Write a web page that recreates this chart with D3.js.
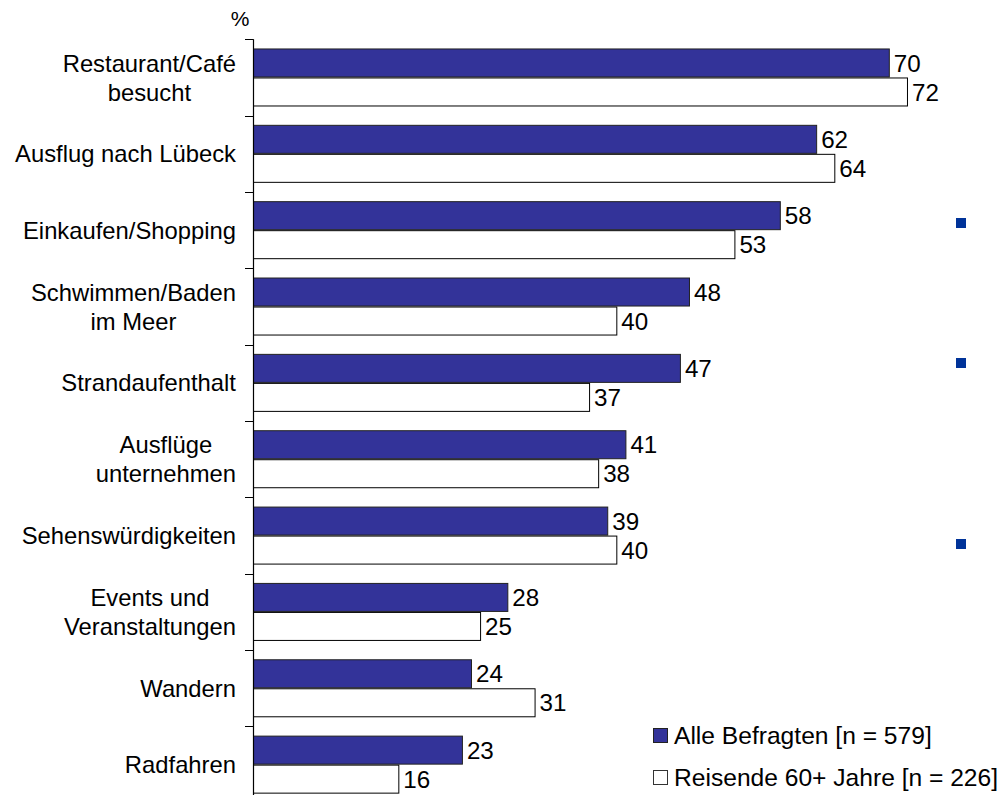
<!DOCTYPE html>
<html>
<head>
<meta charset="utf-8">
<script src="https://cdn.jsdelivr.net/npm/d3@7"></script>
<style>
  html, body { margin: 0; padding: 0; background: #fff; }
  svg { display: block; }
  text { font-family: "Liberation Sans", Arial, sans-serif; fill: #000; }
</style>
</head>
<body>
<svg id="chart" width="1001" height="799"></svg>
<script>
// ---- data ----
const categories = [
  ["Restaurant/Café", "besucht"],
  ["Ausflug nach Lübeck"],
  ["Einkaufen/Shopping"],
  ["Schwimmen/Baden", "im Meer"],
  ["Strandaufenthalt"],
  ["Ausflüge", "unternehmen"],
  ["Sehenswürdigkeiten"],
  ["Events und", "Veranstaltungen"],
  ["Wandern"],
  ["Radfahren"]
];
const seriesNames = ["Alle Befragten [n = 579]", "Reisende 60+ Jahre [n = 226]"];
const alleBefragten = [70, 62, 58, 48, 47, 41, 39, 28, 24, 23];
const reisende60 = [72, 64, 53, 40, 37, 38, 40, 25, 31, 16];
const unitLabel = "%";

// ---- layout ----
const svg = d3.select("#chart");
const fontSize = 23.8;
const colors = ["#333399", "#ffffff"];
const strokes = ["#222222", "#000000"];

const catKeys = categories.map(c => c.join(" "));
const x = d3.scaleLinear().domain([0, 80]).range([253, 253 + 80 * 9.083]);
const y = d3.scaleBand().domain(catKeys).range([39.3, 39.3 + 10 * 76.35]).padding(0);
const y1 = d3.scaleBand().domain(seriesNames).range([0, y.bandwidth()])
  .paddingInner(0).paddingOuter(0.316);

const rows = catKeys.map((k, i) => ({ key: k, lines: categories[i], vals: [alleBefragten[i], reisende60[i]] }));

// bars
const g = svg.append("g");
rows.forEach(r => {
  r.vals.forEach((v, si) => {
    const yy = y(r.key) + y1(seriesNames[si]);
    g.append("rect")
      .attr("x", x(0) + 0.5)
      .attr("y", yy + 0.5)
      .attr("width", x(v) - x(0))
      .attr("height", y1.bandwidth() - 1)
      .attr("fill", colors[si])
      .attr("stroke", strokes[si])
      .attr("stroke-width", 1);
    g.append("text")
      .attr("x", x(v) + 5)
      .attr("y", yy + y1.bandwidth() / 2)
      .attr("dy", "0.36em")
      .attr("font-size", 24.2)
      .text(v);
  });
});

// axis line and ticks
const axisBottom = 795;
svg.append("line")
  .attr("x1", x(0) + 0.5).attr("x2", x(0) + 0.5)
  .attr("y1", y(catKeys[0])).attr("y2", axisBottom)
  .attr("stroke", "#000").attr("stroke-width", 1.2);
catKeys.forEach(k => {
  svg.append("line")
    .attr("x1", x(0) - 8).attr("x2", x(0) + 0.5)
    .attr("y1", Math.round(y(k)) + 0.5).attr("y2", Math.round(y(k)) + 0.5)
    .attr("stroke", "#000").attr("stroke-width", 1);
});

// category labels: block right-aligned, lines centered to each other
const labelRight = 236;
const lineGap = 29;
rows.forEach(r => {
  const cy = y(r.key) + y.bandwidth() / 2;
  const n = r.lines.length;
  const tg = svg.append("g");
  const texts = r.lines.map((ln, li) => tg.append("text")
    .attr("y", cy + (li - (n - 1) / 2) * lineGap)
    .attr("dy", "0.36em")
    .attr("font-size", fontSize)
    .attr("text-anchor", "middle")
    .text(ln));
  const maxW = d3.max(texts, t => t.node().getComputedTextLength());
  texts.forEach(t => t.attr("x", labelRight - maxW / 2));
});

// unit label
svg.append("text")
  .attr("x", 240).attr("y", 18)
  .attr("dy", "0.36em")
  .attr("text-anchor", "middle")
  .attr("font-size", 21)
  .text(unitLabel);

// legend
const legendY = [735, 777];
seriesNames.forEach((s, si) => {
  svg.append("rect")
    .attr("x", 653.5).attr("y", legendY[si] - 7 + 0.5)
    .attr("width", 14).attr("height", 14)
    .attr("fill", colors[si])
    .attr("stroke", si === 0 ? "#222" : "#333")
    .attr("stroke-width", 1);
  svg.append("text")
    .attr("x", 674).attr("y", legendY[si])
    .attr("dy", "0.36em")
    .attr("font-size", 24.6)
    .text(s);
});

// decorative bullets on the right
[218, 358, 539].forEach(by => {
  svg.append("rect")
    .attr("x", 956).attr("y", by)
    .attr("width", 10).attr("height", 10)
    .attr("fill", "#003399");
});
</script>
</body>
</html>
